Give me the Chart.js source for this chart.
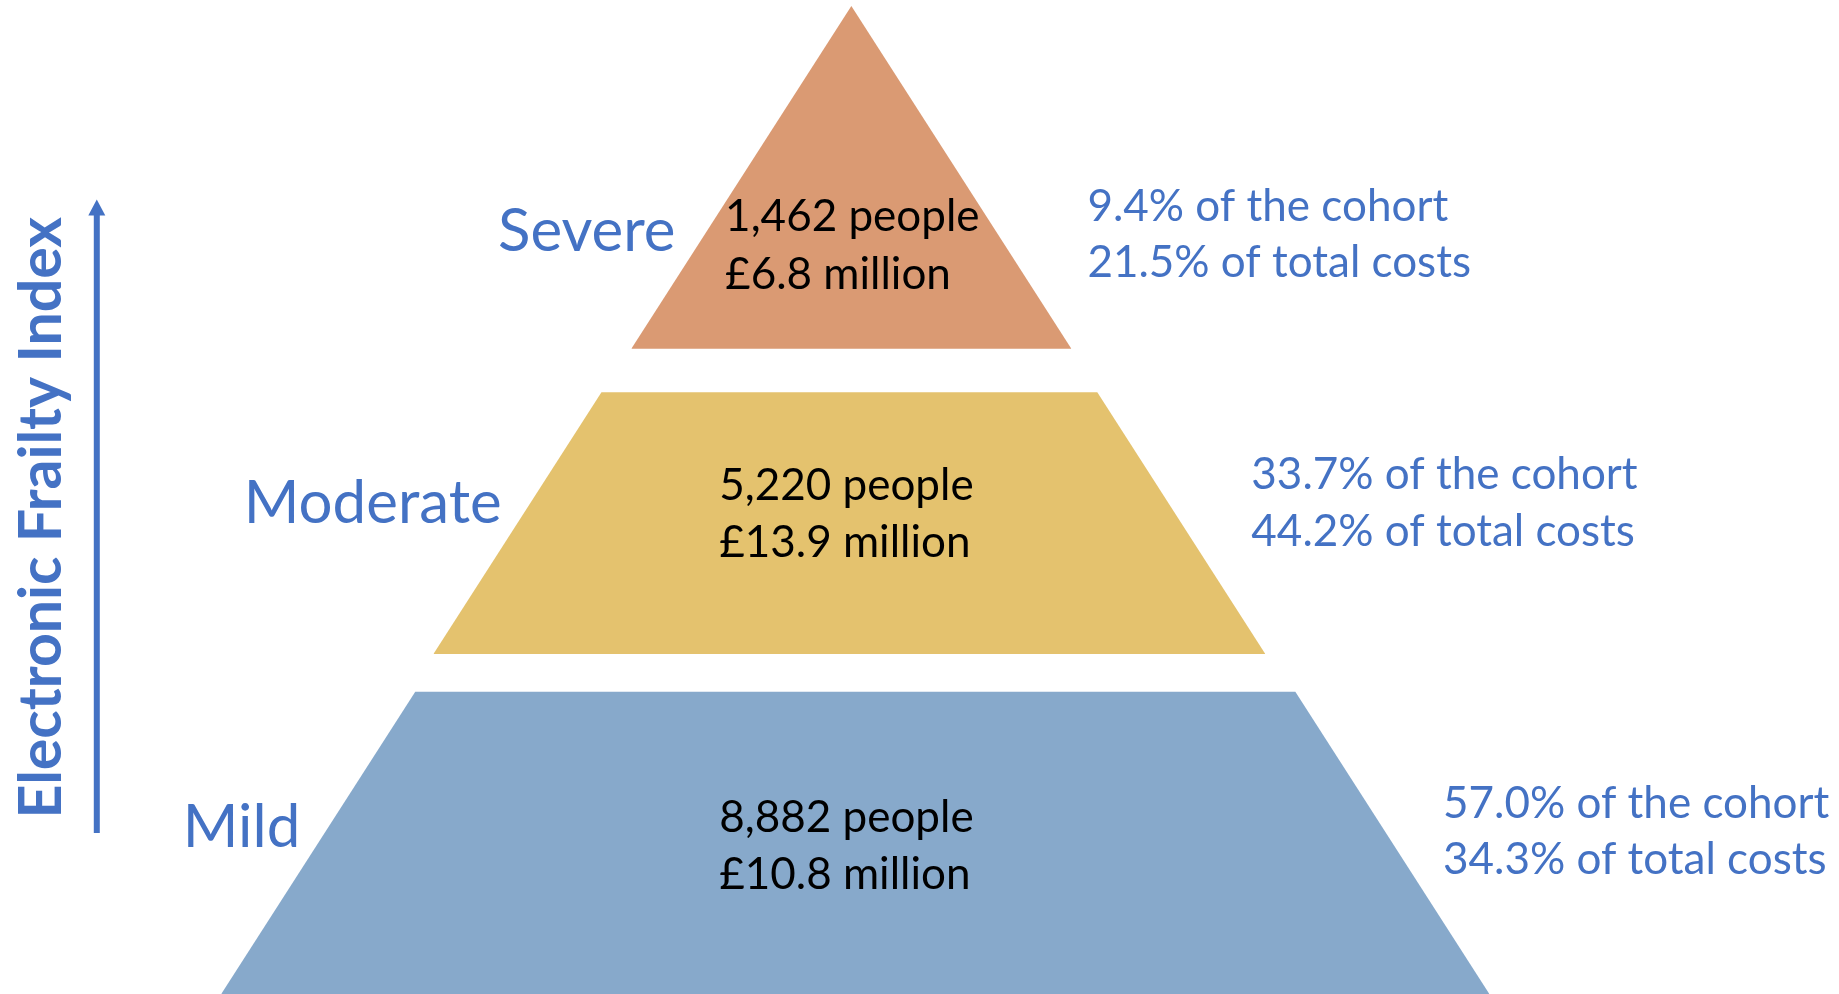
<!DOCTYPE html>
<html>
<head>
<meta charset="utf-8">
<title>Electronic Frailty Index pyramid</title>
<script src="https://cdn.jsdelivr.net/npm/chart.js@4.4.1/dist/chart.umd.min.js"></script>
<style>
  html, body { margin: 0; padding: 0; background: #fff; }
  #wrap { width: 1839px; height: 994px; position: relative; }
</style>
</head>
<body>
<div id="wrap"><canvas id="pyramid"></canvas></div>
<script>
// ── Data ───────────────────────────────────────────────────────
const tiers = ['Mild', 'Moderate', 'Severe'];
const people = [8882, 5220, 1462];
const costMillions = [10.8, 13.9, 6.8];
const cohortPct = [57.0, 33.7, 9.4];
const costPct = [34.3, 44.2, 21.5];

// Vertical band of each tier on the frailty scale (apex of pyramid = 100)
const tierLow = [0, 34.4, 65.3];
const tierHigh = [30.6, 60.9, 100];

// ── Look & layout ──────────────────────────────────────────────
const BLUE = '#4472c4';
const tierColors = ['#87a9cb', '#e4c26e', '#da9a73'];
const tierShift = [0.4, -0.2, 0];  // small sideways nudge per tier
const APEX = 100;
const SLOPE = 0.642;                // half-width gained per unit of height
const FONT = 'Lato, "Open Sans", sans-serif';

// label anchors, in scale units
const nameX = [-55.8, -35.4, -17.8];       // right edge of tier name
const nameY = [14.9, 47.7, 75.2];          // baseline of tier name
const innerX = [-0.5, -0.5, 0.1];          // centre of the people/cost block
const innerY = [[16.4, 10.6], [50.0, 44.2], [77.2, 71.4]];
const sideX = [59.9, 40.5, 23.9];          // left edge of share text
const sideY = [[17.8, 12.1], [51.1, 45.3], [78.2, 72.6]];
const axisTitle = { x: -80.0, y: 48.2, text: 'Electronic Frailty Index' };
const axisArrow = { x: -76.4, from: 16.3, to: 80.4 };

// outline of one tier: x-monotone so it can be filled down to its own base
function tierOutline(i) {
  const lo = tierLow[i], hi = tierHigh[i];
  const wLo = SLOPE * (APEX - lo);
  const wHi = SLOPE * (APEX - hi);
  const c = tierShift[i];
  return [
    { x: c - wLo, y: lo },
    { x: c - wHi, y: hi },
    { x: c + wHi, y: hi },
    { x: c + wLo, y: lo },
  ];
}

const datasets = tiers.map((name, i) => ({
  label: name,
  data: tierOutline(i),
  backgroundColor: tierColors[i],
  borderWidth: 0,
  borderColor: 'rgba(0,0,0,0)',
  pointRadius: 0,
  tension: 0,
  fill: { value: tierLow[i] },
}));

// ── Text + axis arrow ──────────────────────────────────────────
const pyramidLabels = {
  id: 'pyramidLabels',
  afterDatasetsDraw(chart) {
    const { ctx, scales: { x, y } } = chart;
    ctx.save();
    ctx.textBaseline = 'alphabetic';

    tiers.forEach((name, i) => {
      // tier name, left of the pyramid
      ctx.font = `60px ${FONT}`;
      ctx.fillStyle = BLUE;
      ctx.textAlign = 'right';
      ctx.fillText(name, x.getPixelForValue(nameX[i]), y.getPixelForValue(nameY[i]));

      // people and cost, inside the tier
      const inner = [
        `${people[i].toLocaleString('en-GB')} people`,
        `£${costMillions[i].toFixed(1)} million`,
      ];
      ctx.font = `44px ${FONT}`;
      ctx.fillStyle = '#000';
      ctx.textAlign = 'left';
      const blockW = Math.max(...inner.map(t => ctx.measureText(t).width));
      const left = x.getPixelForValue(innerX[i]) - blockW / 2;
      inner.forEach((t, k) => ctx.fillText(t, left, y.getPixelForValue(innerY[i][k])));

      // shares, right of the pyramid
      const side = [
        `${cohortPct[i].toFixed(1)}% of the cohort`,
        `${costPct[i].toFixed(1)}% of total costs`,
      ];
      ctx.fillStyle = BLUE;
      side.forEach((t, k) => ctx.fillText(t, x.getPixelForValue(sideX[i]), y.getPixelForValue(sideY[i][k])));
    });

    // axis title, reading upwards
    ctx.save();
    ctx.translate(x.getPixelForValue(axisTitle.x), y.getPixelForValue(axisTitle.y));
    ctx.rotate(-Math.PI / 2);
    ctx.font = `bold 59px ${FONT}`;
    ctx.fillStyle = BLUE;
    ctx.textAlign = 'center';
    ctx.fillText(axisTitle.text, 0, 0);
    ctx.restore();

    // upward arrow beside the title
    const ax = x.getPixelForValue(axisArrow.x);
    const y0 = y.getPixelForValue(axisArrow.from);
    const y1 = y.getPixelForValue(axisArrow.to);
    ctx.strokeStyle = BLUE;
    ctx.lineWidth = 6;
    ctx.beginPath();
    ctx.moveTo(ax, y0);
    ctx.lineTo(ax, y1 + 14);
    ctx.stroke();
    ctx.fillStyle = BLUE;
    ctx.beginPath();
    ctx.moveTo(ax, y1);
    ctx.lineTo(ax - 8.5, y1 + 16);
    ctx.lineTo(ax + 8.5, y1 + 16);
    ctx.closePath();
    ctx.fill();

    ctx.restore();
  }
};

// ── Chart ──────────────────────────────────────────────────────
new Chart(document.getElementById('pyramid'), {
  type: 'line',
  data: { datasets },
  options: {
    responsive: true,
    maintainAspectRatio: false,
    animation: false,
    events: [],
    layout: { padding: 0 },
    plugins: {
      legend: { display: false },
      tooltip: { enabled: false },
    },
    scales: {
      x: { type: 'linear', min: -86.2, max: 100, display: false },
      y: { type: 'linear', min: 0, max: 100.6, display: false },
    },
  },
  plugins: [pyramidLabels],
});
</script>
</body>
</html>
